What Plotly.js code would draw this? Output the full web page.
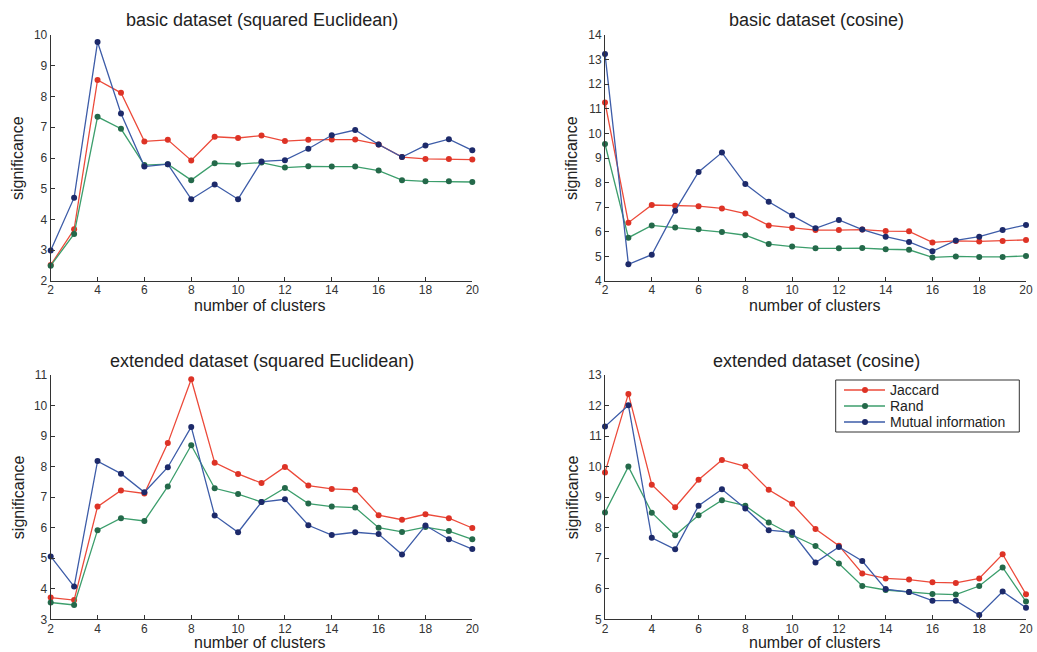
<!DOCTYPE html>
<html>
<head>
<meta charset="utf-8">
<script src="https://cdn.plot.ly/plotly-3.0.1.min.js"></script>
<style>html,body{margin:0;padding:0;background:#fff;}#chart{width:1037px;height:652px;}</style>
</head>
<body>
<div id="chart"></div>
<script>
const clusters = [2,3,4,5,6,7,8,9,10,11,12,13,14,15,16,17,18,19,20];
const seriesNames = ["Jaccard", "Rand", "Mutual information"];
const panelTitles = ["basic dataset (squared Euclidean)", "basic dataset (cosine)", "extended dataset (squared Euclidean)", "extended dataset (cosine)"];

// basic dataset (squared Euclidean)
const basicEucJaccard = [2.52,3.68,8.54,8.12,6.54,6.59,5.92,6.69,6.65,6.73,6.55,6.59,6.60,6.60,6.44,6.03,5.97,5.97,5.95];
const basicEucRand    = [2.50,3.53,7.34,6.95,5.77,5.80,5.28,5.83,5.80,5.85,5.69,5.73,5.72,5.72,5.59,5.28,5.24,5.24,5.22];
const basicEucMI      = [2.99,4.71,9.77,7.45,5.72,5.80,4.66,5.14,4.66,5.89,5.93,6.30,6.74,6.91,6.44,6.03,6.41,6.61,6.25];

// basic dataset (cosine)
const basicCosJaccard = [11.26,6.37,7.09,7.06,7.04,6.95,6.74,6.26,6.15,6.07,6.07,6.09,6.03,6.02,5.57,5.63,5.61,5.63,5.67];
const basicCosRand    = [9.57,5.76,6.26,6.17,6.10,5.99,5.86,5.50,5.40,5.33,5.33,5.34,5.29,5.27,4.96,5.00,4.98,4.98,5.02];
const basicCosMI      = [13.23,4.68,5.07,6.86,8.43,9.22,7.94,7.22,6.66,6.14,6.48,6.09,5.80,5.59,5.21,5.65,5.80,6.07,6.28];

// extended dataset (squared Euclidean)
const extEucJaccard = [3.71,3.63,6.69,7.22,7.12,8.77,10.86,8.13,7.76,7.46,7.99,7.38,7.27,7.24,6.41,6.26,6.44,6.31,5.99];
const extEucRand    = [3.55,3.47,5.92,6.31,6.22,7.35,8.70,7.29,7.10,6.84,7.30,6.79,6.69,6.66,6.00,5.86,6.02,5.89,5.62];
const extEucMI      = [5.06,4.07,8.18,7.77,7.16,7.98,9.30,6.40,5.85,6.84,6.93,6.08,5.76,5.85,5.79,5.12,6.07,5.62,5.30];

// extended dataset (cosine)
const extCosJaccard = [9.81,12.38,9.41,8.67,9.57,10.22,10.01,9.24,8.78,7.96,7.41,6.50,6.34,6.30,6.21,6.19,6.34,7.13,5.82];
const extCosRand    = [8.50,10.00,8.49,7.75,8.41,8.90,8.72,8.17,7.76,7.40,6.83,6.09,5.96,5.89,5.83,5.81,6.09,6.70,5.58];
const extCosMI      = [11.31,12.01,7.67,7.29,8.72,9.26,8.63,7.92,7.85,6.86,7.37,6.91,5.99,5.89,5.61,5.61,5.14,5.91,5.38];

const panels = [
  [basicEucJaccard, basicEucRand, basicEucMI],
  [basicCosJaccard, basicCosRand, basicCosMI],
  [extEucJaccard, extEucRand, extEucMI],
  [extCosJaccard, extCosRand, extCosMI]
];
const yRanges = [[2,10],[4,14],[3,11],[5,13]];

const W = 1037, H = 652;
const lineColors = ["#ec4a3a", "#3c9e6c", "#3d5ca8"];
const markerColors = ["#dd3326", "#24694a", "#1d2a6a"];
const FONT = "Liberation Sans, Arial, Helvetica, sans-serif";

// pixel layout of plot areas
const xDom = [[50.7, 472.3],[605, 1026],[50.7, 472.3],[605, 1026]];
const yPix = [[35, 281],[35, 281],[375, 619.3],[375, 619.3]];

const traces = [];
panels.forEach((p, i) => {
  const ax = i === 0 ? "" : String(i+1);
  p.forEach((vals, s) => {
    traces.push({
      x: clusters, y: vals, type: "scatter", mode: "lines+markers",
      name: seriesNames[s], showlegend: false,
      xaxis: "x" + ax, yaxis: "y" + ax,
      line: {color: lineColors[s], width: 1.3},
      marker: {color: markerColors[s], size: 6},
      cliponaxis: false
    });
  });
});

const tickFont = {family: FONT, size: 12, color: "#333"};
const layout = {
  width: W, height: H,
  margin: {l:0, r:0, t:0, b:0},
  paper_bgcolor: "#fff", plot_bgcolor: "#fff",
  showlegend: false,
  annotations: [],
  shapes: []
};

const px = v => v / W;
const py = v => 1 - v / H;

panels.forEach((p, i) => {
  const ax = i === 0 ? "" : String(i+1);
  layout["xaxis" + ax] = {
    domain: [px(xDom[i][0]), px(xDom[i][1])], anchor: "y" + ax,
    range: [2, 20], dtick: 2, tick0: 2,
    showline: true, linecolor: "#333", linewidth: 1,
    ticks: "inside", ticklen: 4, tickcolor: "#333", ticklabelstandoff: -2,
    showgrid: false, zeroline: false, tickfont: tickFont, fixedrange: true
  };
  layout["yaxis" + ax] = {
    domain: [py(yPix[i][1]), py(yPix[i][0])], anchor: "x" + ax,
    range: yRanges[i], dtick: 1,
    showline: true, linecolor: "#333", linewidth: 1,
    ticks: "inside", ticklen: 4, tickcolor: "#333",
    showgrid: false, zeroline: false, tickfont: tickFont, fixedrange: true
  };
  const cx = i % 2 === 0 ? 262 : 816;
  layout.annotations.push({
    text: panelTitles[i], xref: "paper", yref: "paper",
    x: px(cx), y: py(i < 2 ? 20 : 361),
    xanchor: "center", yanchor: "middle", showarrow: false,
    font: {family: FONT, size: 18, color: "#222"}
  });
  layout.annotations.push({
    text: "number of clusters", xref: "paper", yref: "paper",
    x: px(i % 2 === 0 ? 260 : 815), y: py(i < 2 ? 305 : 642),
    xanchor: "center", yanchor: "middle", showarrow: false,
    font: {family: FONT, size: 16, color: "#222"}
  });
  layout.annotations.push({
    text: "significance", xref: "paper", yref: "paper",
    x: px(i % 2 === 0 ? 18 : 572), y: py((yPix[i][0] + yPix[i][1]) / 2),
    xanchor: "center", yanchor: "middle", showarrow: false, textangle: -90,
    font: {family: FONT, size: 16, color: "#222"}
  });
});

// legend box (extended dataset, cosine panel)
layout.shapes.push({type: "rect", xref: "paper", yref: "paper",
  x0: px(835.7), x1: px(1019.3), y0: py(432), y1: py(380),
  line: {color: "#333", width: 1}, fillcolor: "#fff"});
seriesNames.forEach((nm, s) => {
  const yy = 390 + s * 16;
  layout.shapes.push({type: "line", xref: "paper", yref: "paper",
    x0: px(844), x1: px(885), y0: py(yy), y1: py(yy),
    line: {color: lineColors[s], width: 1.3}});
  layout.shapes.push({type: "circle", xref: "paper", yref: "paper",
    x0: px(862), x1: px(868), y0: py(yy + 3), y1: py(yy - 3),
    line: {color: markerColors[s], width: 0}, fillcolor: markerColors[s]});
  layout.annotations.push({
    text: nm, xref: "paper", yref: "paper", x: px(889), y: py(yy),
    xanchor: "left", yanchor: "middle", showarrow: false, borderpad: 0,
    font: {family: FONT, size: 14, color: "#222"}
  });
});

Plotly.newPlot("chart", traces, layout, {displayModeBar: false, staticPlot: true});
</script>
</body>
</html>
